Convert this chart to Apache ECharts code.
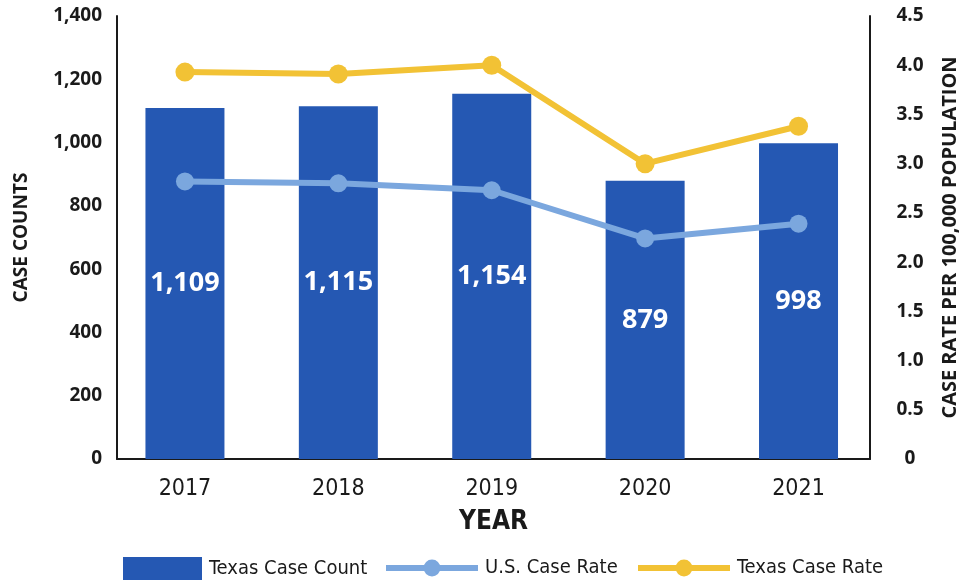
<!DOCTYPE html>
<html>
<head>
<meta charset="utf-8">
<title>Texas Case Counts and Case Rates, 2017–2021</title>
<script src="https://cdn.jsdelivr.net/npm/echarts@6/dist/echarts.min.js"></script>
<style>
  html, body { margin: 0; padding: 0; background: #ffffff; }
  #chart { width: 968px; height: 583px; }
</style>
</head>
<body>
<div id="chart"></div>
<script>
// Reporting years
const years = [2017, 2018, 2019, 2020, 2021];
// Texas case counts (bars, left axis)
const texasCounts = [1109, 1115, 1154, 879, 998];
// Case rates per 100,000 population (lines, right axis)
const usRates = [2.82, 2.80, 2.73, 2.24, 2.39];
const texasRates = [3.93, 3.91, 4.00, 3.00, 3.38];
// Axis ticks
const countTicks = [0, 200, 400, 600, 800, 1000, 1200, 1400];
const rateTicks = [0, 0.5, 1.0, 1.5, 2.0, 2.5, 3.0, 3.5, 4.0, 4.5];

const BAR_BLUE = '#2558b3';
const LIGHT_BLUE = '#7ba7de';
const GOLD = '#f2c235';
const INK = '#1a1a1a';
const NARROW = "'Liberation Sans Narrow', 'DejaVu Sans Condensed', 'Roboto', sans-serif";
const LABEL_FONT = "'Open Sans', 'Noto Sans', sans-serif";

const withCommas = v => Number(v).toLocaleString('en-US');
const pairs = (xs, ys) => xs.map((x, i) => [x, ys[i]]);

const chart = echarts.init(document.getElementById('chart'), null, { renderer: 'canvas' });

const legendText = { color: INK, fontFamily: NARROW, fontSize: 20, padding: [0, 0, 0, 2] };

chart.setOption({
  animation: false,
  backgroundColor: '#ffffff',
  grid: { left: 117, right: 92, top: 16, bottom: 124, containLabel: false },
  legend: [
    {
      data: [{ name: 'Texas Case Count', icon: 'rect' }],
      left: 118, top: 552, itemWidth: 79, itemHeight: 23,
      textStyle: legendText, selectedMode: false
    },
    {
      data: ['U.S. Case Rate'], left: 378, top: 553, itemWidth: 92, itemHeight: 21,
      lineStyle: { width: 6 },
      textStyle: legendText, selectedMode: false
    },
    {
      data: ['Texas Case Rate'], left: 630, top: 553, itemWidth: 92, itemHeight: 21,
      lineStyle: { width: 6 },
      textStyle: legendText, selectedMode: false
    }
  ],
  xAxis: {
    type: 'value',
    min: 2016.557,
    max: 2021.466,
    splitNumber: 5,
    name: 'YEAR',
    nameLocation: 'middle',
    nameGap: 50,
    nameTextStyle: { color: INK, fontFamily: NARROW, fontSize: 26, fontWeight: 'bold' },
    axisLine: { show: true, lineStyle: { color: INK, width: 2 } },
    axisTick: { show: false },
    splitLine: { show: false },
    axisLabel: {
      color: INK, fontFamily: NARROW, fontSize: 23, margin: 19,
      showMinLabel: false, showMaxLabel: false,
      formatter: v => (years.includes(Math.round(v)) && Math.abs(v - Math.round(v)) < 1e-6) ? String(Math.round(v)) : ''
    }
  },
  yAxis: [
    {
      type: 'value',
      min: countTicks[0],
      max: countTicks[countTicks.length - 1],
      interval: countTicks[1] - countTicks[0],
      name: 'CASE COUNTS',
      nameLocation: 'middle',
      nameRotate: 90,
      nameGap: 86,
      nameTextStyle: { color: INK, fontFamily: LABEL_FONT, fontSize: 19, fontWeight: 'bold' },
      axisLine: { show: true, onZero: false, lineStyle: { color: INK, width: 2 } },
      axisTick: { show: false },
      splitLine: { show: false },
      axisLabel: {
        color: INK, fontFamily: LABEL_FONT, fontSize: 19, fontWeight: 'bold', margin: 15,
        formatter: v => withCommas(v)
      }
    },
    {
      type: 'value',
      position: 'right',
      min: rateTicks[0],
      max: rateTicks[rateTicks.length - 1],
      interval: rateTicks[1] - rateTicks[0],
      name: 'CASE RATE PER 100,000 POPULATION',
      nameLocation: 'middle',
      nameRotate: 90,
      nameGap: 70,
      nameTextStyle: { color: INK, fontFamily: LABEL_FONT, fontSize: 20, fontWeight: 'bold' },
      axisLine: { show: true, onZero: false, lineStyle: { color: INK, width: 2 } },
      axisTick: { show: false },
      splitLine: { show: false },
      axisLabel: {
        color: INK, fontFamily: LABEL_FONT, fontSize: 19, fontWeight: 'bold', margin: 40,
        align: 'center',
        formatter: v => (v === 0 ? '0' : v.toFixed(1))
      }
    }
  ],
  series: [
    {
      name: 'Texas Case Count',
      type: 'bar',
      yAxisIndex: 0,
      barWidth: 79,
      itemStyle: { color: BAR_BLUE },
      label: {
        show: true,
        position: 'inside',
        color: '#ffffff',
        fontFamily: LABEL_FONT,
        fontSize: 27,
        fontWeight: 'bold',
        formatter: p => withCommas(p.value[1])
      },
      data: pairs(years, texasCounts),
      z: 2
    },
    {
      name: 'U.S. Case Rate',
      type: 'line',
      yAxisIndex: 1,
      symbol: 'circle',
      symbolSize: 18,
      lineStyle: { color: LIGHT_BLUE, width: 6 },
      itemStyle: { color: LIGHT_BLUE },
      data: pairs(years, usRates),
      z: 3
    },
    {
      name: 'Texas Case Rate',
      type: 'line',
      yAxisIndex: 1,
      symbol: 'circle',
      symbolSize: 19,
      lineStyle: { color: GOLD, width: 6 },
      itemStyle: { color: GOLD },
      data: pairs(years, texasRates),
      z: 4
    }
  ]
});
</script>
</body>
</html>
